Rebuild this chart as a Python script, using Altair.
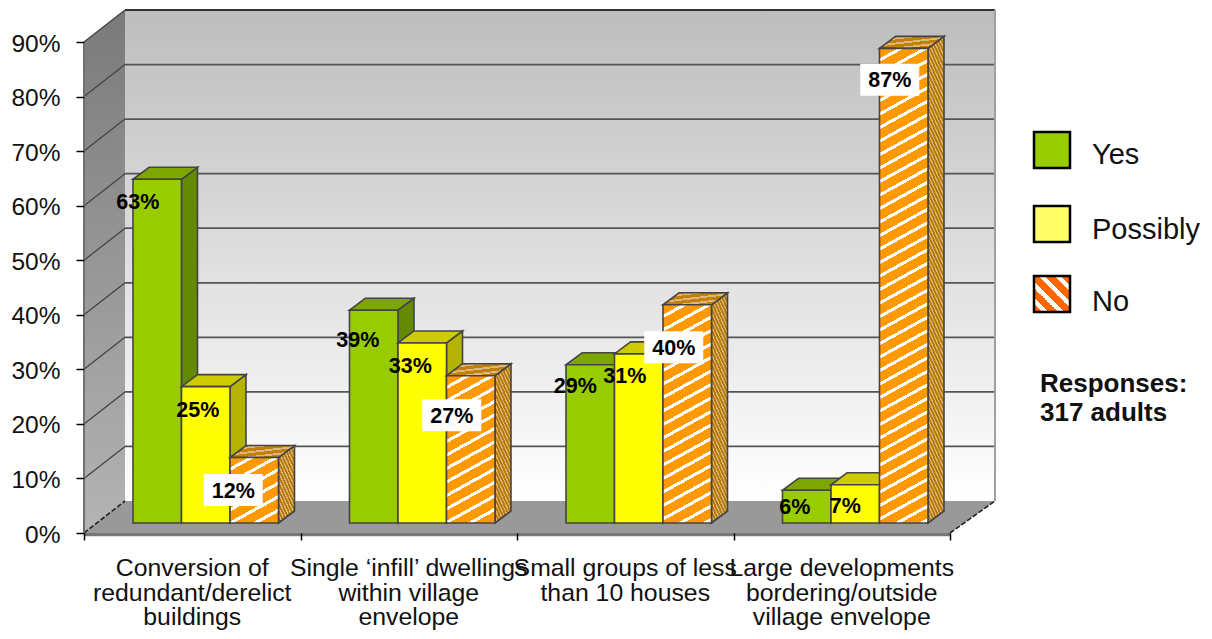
import altair as alt
import pandas as pd

# ---------- chart values ----------
CATEGORIES = [
    "Conversion of\nredundant/derelict\nbuildings",
    "Single \u2018infill\u2019 dwellings\nwithin village\nenvelope",
    "Small groups of less\nthan 10 houses",
    "Large developments\nbordering/outside\nvillage envelope",
]
SERIES = ["Yes", "Possibly", "No"]
YES = [63, 39, 29, 6]
POSSIBLY = [25, 33, 31, 7]
NO = [12, 27, 40, 87]
VALUES = [YES, POSSIBLY, NO]
TICKS = [0, 10, 20, 30, 40, 50, 60, 70, 80, 90]
X_TICKS = [0, 1, 2, 3, 4]
NOTE = "Responses:\n317 adults"

# ---------- layout ----------
W, H = 866, 491
PX_X = W / 4
PX_Y = H / 90
ORIGIN_X, BASE_Y = 84, 533
WALL_DX, WALL_DY = 41 / PX_X, 32 / PX_Y
WALL_RIGHT = 4 + 45 / PX_X
BAR_D1X, BAR_D1Y = 13 / PX_X, 10 / PX_Y
BAR_DX, BAR_DY = 16 / PX_X, 12 / PX_Y
BAR_W = 48.5 / PX_X
BAR_START = 36 / PX_X
FONT = "Liberation Sans"
INK = "#111111"

FACE = {
    "Yes": ("#99cc00", "#638a00", "#7ea600"),
    "Possibly": ("#ffff00", "#b3b300", "#cccc00"),
}
# pixel nudges of the value labels from the centre of each bar's top edge
NUDGE = {
    "Yes": [(-19.5, 24), (-16, 31), (-15, 22), (-12, 18)],
    "Possibly": [(-8, 24), (-12, 24), (-14, 23), (-10, 22)],
    "No": [(-21, 34), (-19, 41), (-13.5, 44), (-14, 33)],
}

X_SCALE = alt.Scale(domain=[0, 4], nice=False, zero=False)
Y_SCALE = alt.Scale(domain=[0, 90], nice=False, zero=False)
X_AXIS = alt.Axis(values=X_TICKS, labels=False, domain=False, grid=False, title=None,
                  tickSize=7, tickColor="#000000", tickWidth=1.5, zindex=1)
Y_AXIS = alt.Axis(values=TICKS, labelExpr="datum.value + '%'", domain=False, grid=False, title=None,
                  tickSize=8, tickColor="#000000", tickWidth=1.5, labelPadding=16, labelOffset=2,
                  labelFont=FONT, labelFontSize=24.5, labelColor=INK, zindex=1)


def qx(f="x", **k):
    return alt.X(f, type="quantitative", scale=X_SCALE, axis=X_AXIS, title=None, **k)


def qy(f="y", **k):
    return alt.Y(f, type="quantitative", scale=Y_SCALE, axis=Y_AXIS, title=None, **k)


def page_x(p):
    return (p - ORIGIN_X) / PX_X


def page_y(p):
    return (BASE_Y - p) / PX_Y


def stripes(w, h, slope, period, c1, c2, frac):
    """Diagonal hatch as a hard-stop gradient across a w x h pixel box."""
    a, b = slope * w, h
    r = abs(a) + b
    k = r / (a * a + b * b)
    n = r / period
    stops = []
    i = 0
    while i < n:
        o = [i / n, (i + frac) / n, (i + frac) / n, (i + 1) / n]
        cols = [c1, c1, c2, c2]
        for off, col in zip(o, cols):
            stops.append({"offset": min(off, 1), "color": col})
        i += 1
    x1 = 1 if a < 0 else 0
    return {"gradient": "linear", "x1": x1, "y1": 0, "x2": x1 + k * a, "y2": k * b, "stops": stops}


def vgrad(top, bottom):
    return {"gradient": "linear", "x1": 0, "y1": 0, "x2": 0, "y2": 1,
            "stops": [{"offset": 0, "color": top}, {"offset": 1, "color": bottom}]}


def rect(x, x2, y, y2, **mk):
    df = pd.DataFrame({"x": [x], "x2": [x2], "y": [y], "y2": [y2]})
    return alt.Chart(df).mark_rect(**mk).encode(x=qx(), x2="x2", y=qy(), y2="y2")


def segs(rows, **mk):
    df = pd.DataFrame(rows, columns=["x", "x2", "y", "y2"])
    return alt.Chart(df).mark_rule(**mk).encode(x=qx(), x2="x2", y=qy(), y2="y2")


layers = []

# back wall, side wall and floor
layers.append(rect(WALL_DX, WALL_RIGHT, WALL_DY, 90 + WALL_DY, fill=vgrad("#bdbdbd", "#ffffff")))
side = pd.DataFrame({"x": [0, WALL_DX], "y": [0, WALL_DY], "y2": [90, 90 + WALL_DY]})
layers.append(alt.Chart(side).mark_area(fill=vgrad("#7a7a7a", "#b4b4b4")).encode(x=qx(), y=qy(), y2="y2"))
floor = pd.DataFrame({"y": [0, WALL_DY], "x": [0, WALL_DX], "x2": [4, WALL_RIGHT]})
layers.append(alt.Chart(floor).mark_area(orient="horizontal", fill="#999999").encode(y=qy(), x=qx(), x2="x2"))
layers.append(rect(0, 4, -0.6, 0, fill="#777777"))

# gridlines
layers.append(segs([(WALL_DX, WALL_RIGHT, t + WALL_DY, t + WALL_DY) for t in TICKS[1:-1]],
                   color="#555555", strokeWidth=1.8))
layers.append(segs([(0, WALL_DX, t, t + WALL_DY) for t in TICKS[1:]], color="#444444", strokeWidth=1.3))
layers.append(segs([(0, WALL_DX, 0, WALL_DY), (4, WALL_RIGHT, 0, WALL_DY)],
                   color="#222222", strokeWidth=1.6, strokeDash=[5, 2]))
layers.append(segs([(WALL_DX, WALL_RIGHT, 90 + WALL_DY, 90 + WALL_DY)], color="#333333", strokeWidth=2))
layers.append(segs([(0, 0, 0, 90)], color="#707070", strokeWidth=2))
layers.append(segs([(WALL_RIGHT, WALL_RIGHT, WALL_DY, 90 + WALL_DY)], color="#a0a0a0", strokeWidth=2))

# bars, drawn back to front: side, top, front
OUTLINE = dict(stroke="#444444", strokeWidth=1.6)
labels = []
boxes = []
for c in range(4):
    for s, name in enumerate(SERIES):
        v = VALUES[s][c]
        x0 = c + BAR_D1X + BAR_START + s * BAR_W
        x1 = x0 + BAR_W
        y0 = BAR_D1Y
        y1 = BAR_D1Y + v
        h_px = v * PX_Y
        if name == "No":
            front = stripes(48.5, h_px, 0.55, 13.5, "#ff9900", "#ffffff", 0.74)
            sfill = stripes(16, h_px + 12, -2.2, 7, "#b87a08", "#d9b57a", 0.62)
            tfill = stripes(64, 12, 0.12, 5, "#c47f05", "#dcb880", 0.62)
        else:
            front, sfill, tfill = FACE[name]
        sd = pd.DataFrame({"x": [x1, x1 + BAR_DX], "y": [y0, y0 + BAR_DY], "y2": [y1, y1 + BAR_DY]})
        layers.append(alt.Chart(sd).mark_area(fill=sfill, **OUTLINE).encode(x=qx(), y=qy(), y2="y2"))
        td = pd.DataFrame({"y": [y1, y1 + BAR_DY], "x": [x0, x0 + BAR_DX], "x2": [x1, x1 + BAR_DX]})
        layers.append(alt.Chart(td).mark_area(orient="horizontal", fill=tfill, **OUTLINE).encode(y=qy(), x=qx(), x2="x2"))
        layers.append(rect(x0, x1, y0, y1, fill=front, **OUTLINE))

        ndx, ndy = NUDGE[name][c]
        lx = (x0 + x1) / 2 + ndx / PX_X
        ly = y1 - ndy / PX_Y
        labels.append({"x": lx, "y": ly, "t": f"{v}%"})
        if name == "No":
            boxes.append({"x": lx - 29.5 / PX_X, "x2": lx + 29.5 / PX_X,
                          "y": ly - 14.5 / PX_Y, "y2": ly + 17.5 / PX_Y})

layers.append(alt.Chart(pd.DataFrame(boxes)).mark_rect(fill="#ffffff").encode(x=qx(), x2="x2", y=qy(), y2="y2"))
layers.append(alt.Chart(pd.DataFrame(labels)).mark_text(
    font=FONT, fontSize=21.5, fontWeight="bold", color="#000000", baseline="middle", align="center"
).encode(x=qx(), y=qy(), text="t:N"))

# category labels
cat_df = pd.DataFrame({"x": [i + 0.5 for i in range(4)], "y": [page_y(556)] * 4, "t": CATEGORIES})
layers.append(alt.Chart(cat_df).mark_text(
    font=FONT, fontSize=24.8, color=INK, baseline="top", align="center", lineBreak="\n", lineHeight=24.5
).encode(x=qx(), y=qy(), text="t:N"))

# legend
layers.append(rect(page_x(1034), page_x(1070), page_y(168), page_y(132), fill="#99cc00", stroke="#000000", strokeWidth=2.5))
layers.append(rect(page_x(1034), page_x(1070), page_y(242), page_y(206), fill="#ffff66", stroke="#000000", strokeWidth=2.5))
layers.append(rect(page_x(1034), page_x(1070), page_y(312), page_y(276),
                   fill=stripes(36, 36, -1.0, 16, "#ff6600", "#ffffff", 0.6), stroke="#000000", strokeWidth=2.5))
leg_df = pd.DataFrame({"x": [page_x(1092)] * 3, "y": [page_y(155), page_y(230), page_y(302)], "t": SERIES})
layers.append(alt.Chart(leg_df).mark_text(
    font=FONT, fontSize=29, color=INK, baseline="middle", align="left"
).encode(x=qx(), y=qy(), text="t:N"))
note_df = pd.DataFrame({"x": [page_x(1040)], "y": [page_y(371)], "t": [NOTE]})
layers.append(alt.Chart(note_df).mark_text(
    font=FONT, fontSize=26, fontWeight="bold", color=INK, baseline="top", align="left",
    lineBreak="\n", lineHeight=29
).encode(x=qx(), y=qy(), text="t:N"))

chart = alt.layer(*layers).properties(
    width=W, height=H,
    autosize=alt.AutoSizeParams(type="none"),
    padding={"left": ORIGIN_X - 8, "top": 34, "right": 1196 - (ORIGIN_X - 8) - W, "bottom": 623 - 34 - H},
).configure_view(stroke=None)

chart.save("out.html", embed_options={"renderer": "svg", "actions": False})
